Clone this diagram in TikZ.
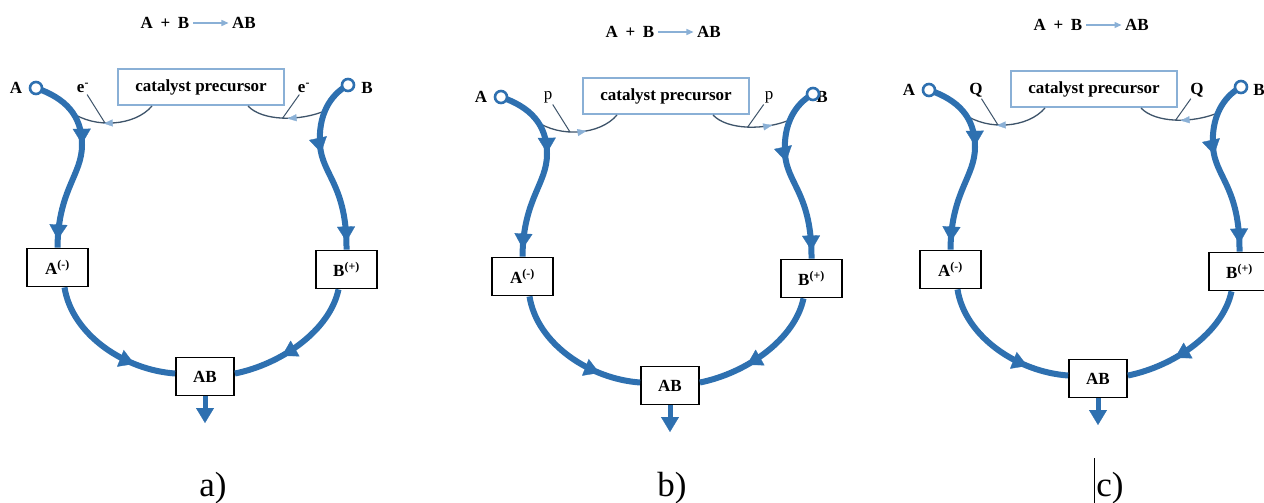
\documentclass[tikz,border=0pt]{standalone}
\usepackage{fontspec}
\setmainfont{Liberation Serif}
\usetikzlibrary{arrows.meta,decorations.markings}

\definecolor{flowblue}{RGB}{46,112,176}
\definecolor{paleblue}{RGB}{138,176,214}
\definecolor{wire}{RGB}{62,84,106}

\tikzset{
  leftward/.tip={Triangle[reversed,length=9pt,width=7pt]},
  rightward/.tip={Triangle[length=9pt,width=7pt]},
  bigtip/.tip={Triangle[length=15pt,width=18pt]},
  txt/.style={font=\fontsize{17}{20}\selectfont\bfseries, inner sep=1.5pt},
  catbox/.style={txt, draw=paleblue, line width=2pt, fill=white,
    minimum width=166pt, minimum height=36pt, inner sep=0pt},
  species/.style={txt, draw=black, line width=1.8pt, fill=white,
    minimum width=61pt, minimum height=38pt, inner sep=0pt},
  port/.style={circle, draw=flowblue, line width=2.6pt, fill=white,
    minimum size=12pt, inner sep=0pt},
  mainflow/.style={draw=flowblue, line width=6pt},
  wirepath/.style={draw=wire, line width=1.3pt},
  leader/.style={draw=wire, line width=1pt},
  caption/.style={font=\fontsize{35}{40}\selectfont, inner sep=0pt, anchor=base},
  midtip/.style={postaction={decorate, decoration={markings,
    mark=at position #1 with {\arrow[flowblue, line width=0.3pt]{bigtip}}}}},
  % small pale arrowheads on the transfer wires
  lpath L/.style={postaction={decorate, decoration={markings,
    mark=at position 0.5 with {\arrow[paleblue, line width=0.3pt]{leftward}}}}},
  lpath R/.style={postaction={decorate, decoration={markings,
    mark=at position 0.6 with {\arrow[paleblue, line width=0.3pt]{rightward}}}}},
  rpath L/.style={postaction={decorate, decoration={markings,
    mark=at position 0.62 with {\arrow[paleblue, line width=0.3pt]{leftward}}}}},
  rpath R/.style={postaction={decorate, decoration={markings,
    mark=at position 0.75 with {\arrow[paleblue, line width=0.3pt]{rightward}}}}},
  % one catalytic cycle: #1 transferred species, #2 transfer direction, #3 x of label B
  pics/cycle/.style n args={3}{code={
    \node[txt] (-reac) at (165,23) {A\hspace{0.45em}+\hspace{0.45em}B};
    \node[txt] (-prod) at (244,23) {AB};
    \draw[paleblue, line width=1.4pt, shorten <=2pt, shorten >=2pt,
      -{Triangle[length=7pt,width=6pt]}] (-reac) -- (-prod);
    \node[catbox] (-cat) at (201,87) {catalyst precursor};
    \node[species] (-am) at (57.5,267.5) {A\textsuperscript{(-)}};
    \node[species] (-bp) at (346.5,269.5) {B\textsuperscript{(+)}};
    \node[species, minimum width=58pt] (-ab) at (205,376.5) {AB};
    \node[txt] (-alab) at (16,88) {A};
    \node[txt] (-blab) at (#3,88) {B};
    \node[txt] (-lq) at (83,88) {#1};
    \node[txt] (-rq) at (304,88) {#1};
    \coordinate (-a) at (36,88);
    \coordinate (-b) at (348,85);
    \coordinate (-ajoin) at (71,112);
    \coordinate (-bjoin) at (327,110);
    \coordinate (-out) at (205,423);
    % transfer wires between the reactant branches and the catalyst
    \draw[wirepath, lpath #2] (-ajoin) .. controls (95,129) and (135,126)
      .. ([xshift=-49pt]-cat.south) coordinate[pos=0.4] (-lfoot);
    \draw[wirepath, rpath #2] ([xshift=47pt]-cat.south) .. controls (262,121) and (300,122)
      .. (-bjoin) coordinate[pos=0.5] (-rfoot);
    \draw[leader] (-lq) -- (-lfoot);
    \draw[leader] (-rq) -- (-rfoot);
    % main reactant branches
    \draw[mainflow, midtip=78pt, midtip=-8pt] (-a) .. controls (65,98) and (82,115) .. (82,145)
      .. controls (82,175) and (58,190) .. (-am.north);
    \draw[mainflow, midtip=78pt, midtip=-8pt] (-b) .. controls (330,95) and (318,115) .. (320,145)
      .. controls (322,175) and (347,185) .. (-bp.north);
    % recombination into the product
    \draw[mainflow, midtip=0.72] ([xshift=7pt]-am.south) .. controls (72,335) and (125,370)
      .. ([yshift=3pt]-ab.west);
    \draw[mainflow, midtip=0.64] ([xshift=-8pt]-bp.south) .. controls (330,330) and (282,364)
      .. ([yshift=3pt]-ab.east);
    \draw[mainflow, line width=5pt, -{Triangle[length=15pt,width=18pt,line width=0.3pt]}] (-ab.south) -- (-out);
    \node[port] (-aport) at (-a) {};
    \node[port] (-bport) at (-b) {};
  }}
}

\begin{document}
\begin{tikzpicture}[x=1pt, y=-1pt]
  \useasboundingbox (0,0) rectangle (1264,503);
  \clip (0,0) rectangle (1264,503);
  \fill[white] (0,0) rectangle (1264,503);

  \pic (pa) at (0,0)   {cycle={e\textsuperscript{-}}{L}{367}};
  \pic (pb) at (465,9) {cycle={\mdseries p}{R}{357}};
  \pic (pc) at (893,2) {cycle={Q}{L}{366}};

  \node[caption] (capa) at (213,496) {a)};
  \node[caption] (capb) at (672,496) {b)};
  \node[caption] (capc) at (1110,496) {c)};

  \coordinate (cursortop) at (1094,458);
  \coordinate (cursorbot) at (1094,503);
  \draw[line width=1pt] (cursortop) -- (cursorbot);
\end{tikzpicture}
\end{document}
